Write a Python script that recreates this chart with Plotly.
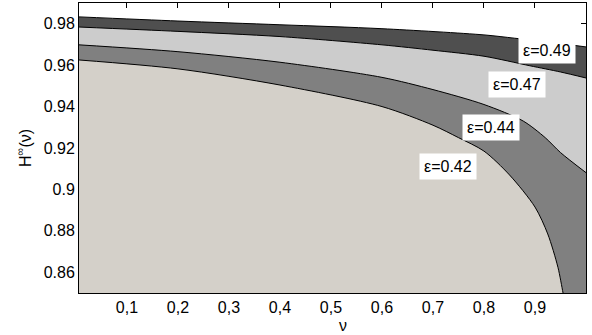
import plotly.graph_objects as go

# ---- data ----
nu_49 = [0.006, 0.2, 0.4, 0.6, 0.8, 0.86, 0.93, 1.0]
H_49 = [0.9833, 0.9813, 0.9795, 0.9776, 0.9746, 0.9730, 0.9710, 0.9688]

nu_47 = [0.006, 0.2, 0.4, 0.6, 0.7, 0.8, 0.89, 0.95, 1.0]
H_47 = [0.9784, 0.9763, 0.9738, 0.9698, 0.9672, 0.9643, 0.9597, 0.9567, 0.9538]

nu_44 = [0.006, 0.2, 0.4, 0.6, 0.7, 0.8, 0.877, 0.92, 0.95, 1.0]
H_44 = [0.9698, 0.9665, 0.9614, 0.9541, 0.9482, 0.9410, 0.9330, 0.9250, 0.9178, 0.9081]

nu_42 = [0.006, 0.2, 0.4, 0.6, 0.7, 0.75, 0.8, 0.85, 0.9, 0.925, 0.945, 0.955, 0.96]
H_42 = [0.9625, 0.9582, 0.9504, 0.9400, 0.9310, 0.9250, 0.9185, 0.9070, 0.8915,
        0.8785, 0.8624, 0.8500, 0.8440]

series = [
    ("ε=0.49", nu_49, H_49, "#4f4f4f", 0.924, 0.9669),
    ("ε=0.47", nu_47, H_47, "#cccccc", 0.865, 0.9508),
    ("ε=0.44", nu_44, H_44, "#808080", 0.814, 0.9300),
    ("ε=0.42", nu_42, H_42, "#d4d0c9", 0.729, 0.9110),
]

x_ticks = [0.1, 0.2, 0.3, 0.4, 0.5, 0.6, 0.7, 0.8, 0.9]
x_tick_labels = ["0,1", "0,2", "0,3", "0,4", "0,5", "0,6", "0,7", "0,8", "0,9"]
y_ticks = [0.86, 0.88, 0.90, 0.92, 0.94, 0.96, 0.98]
y_tick_labels = ["0.86", "0.88", "0.9", "0.92", "0.94", "0.96", "0.98"]

FONT = "Liberation Sans, Arial, sans-serif"

fig = go.Figure()
for name, xs, ys, col, lx, ly in series:
    fig.add_trace(go.Scatter(
        x=xs, y=ys, mode="lines", name=name,
        line=dict(color="black", width=1, shape="spline", smoothing=0.8),
        fill="tozeroy", fillcolor=col, showlegend=False, hoverinfo="skip",
    ))
    fig.add_annotation(
        x=lx, y=ly, text=name, showarrow=False,
        bgcolor="white", borderpad=4,
        font=dict(family=FONT, size=16, color="black"),
    )

axis_common = dict(
    showgrid=False, zeroline=False, showline=True, linecolor="black", linewidth=1,
    mirror="ticks", ticks="inside", ticklen=5, tickcolor="black",
    layer="below traces", automargin=False,
    tickfont=dict(family=FONT, size=16, color="black"),
)

fig.update_xaxes(range=[0.006, 1.0], tickvals=x_ticks, ticktext=x_tick_labels, **axis_common)
fig.update_yaxes(range=[0.85, 0.99], tickvals=y_ticks, ticktext=y_tick_labels, **axis_common)

# axis titles
fig.add_annotation(xref="paper", yref="paper", x=0.52, y=0, yshift=-32,
                   text="ν", showarrow=False, yanchor="middle",
                   font=dict(family=FONT, size=16, color="black"))
fig.add_annotation(xref="paper", yref="paper", x=0, xshift=-55, y=0.5,
                   text="H<sup>∞</sup>(ν)", showarrow=False, textangle=-90,
                   xanchor="center", yanchor="middle",
                   font=dict(family=FONT, size=16, color="black"))

fig.update_layout(
    width=592, height=335,
    margin=dict(l=79, r=6, t=3, b=42, autoexpand=False),
    plot_bgcolor="white", paper_bgcolor="white",
)

fig.write_html("out.html", config={"displayModeBar": False},
               post_script="document.body.style.margin='0';document.body.style.padding='0';")
